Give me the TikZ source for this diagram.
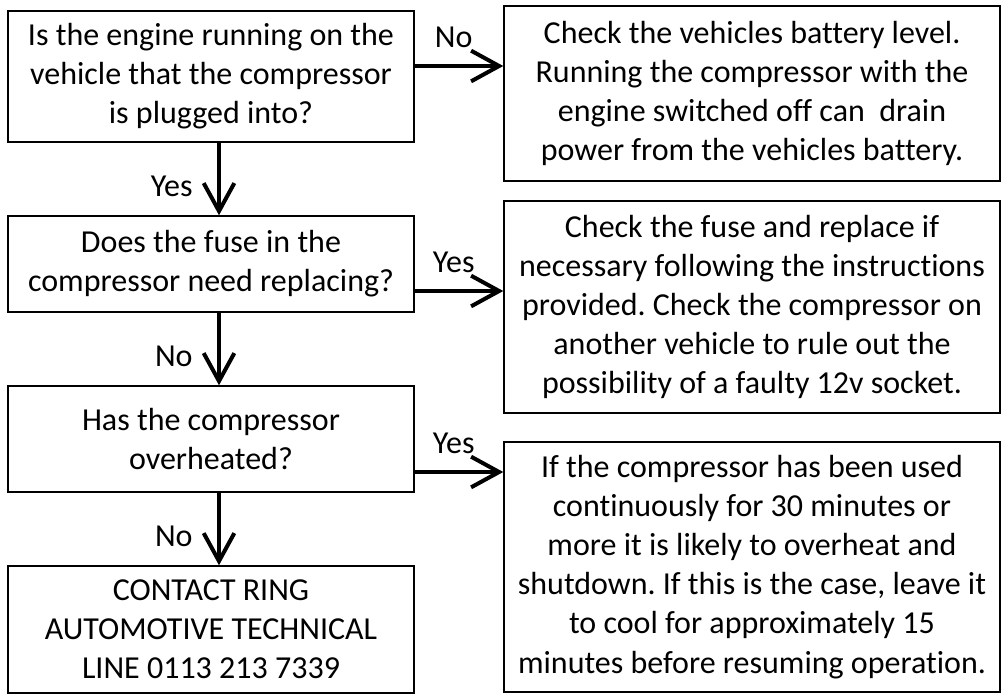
\documentclass[tikz,border=0pt]{standalone}
\usepackage{fontspec}
\setmainfont{Carlito}[Ligatures=NoCommon]
\usetikzlibrary{arrows.meta,positioning}

\tikzset{
    box/.style={
        draw, line width=1.1pt,
        inner sep=0pt,
        align=center
    },
    leftbox/.style={box, minimum width=304.5pt},
    rightbox/.style={box, minimum width=372pt},
    arr/.style={
        -{Straight Barb[length=21pt,width=23pt]},
        line width=3pt
    }
}

\begin{document}
\frenchspacing
\begin{tikzpicture}[
    x=0.75pt, y=-0.75pt,
    every node/.style={font=\fontsize{24}{29.3}\selectfont}
]
\useasboundingbox (0,0) rectangle (1003,694);

% questions
\node[leftbox, minimum height=98.25pt] (engine) at (211,76.5)
    {Is the engine running on the\\vehicle that the compressor\\is plugged into?};
\node[leftbox, minimum height=72pt] (fuse) at (211,264)
    {Does the fuse in the\\compressor need replacing?};
\node[leftbox, minimum height=79.5pt] (heat) at (211,439)
    {Has the compressor\\overheated?};
\node[leftbox, minimum height=95.25pt] (contact) at (211,629.5)
    {CONTACT RING\\AUTOMOTIVE TECHNICAL\\LINE 0113 213 7339};

% answers
\node[rightbox, minimum height=131.25pt] (battery) at (752,93.5)
    {Check the vehicles battery level.\\Running the compressor with the\\engine switched off can\ \ drain\\power from the vehicles battery.};
\node[rightbox, minimum height=159pt] (fusecheck) at (752,307)
    {Check the fuse and replace if\\necessary following the instructions\\provided. Check the compressor on\\another vehicle to rule out the\\possibility of a faulty 12v socket.};
\node[rightbox, minimum height=187.5pt] (cool) at (752,567)
    {If the compressor has been used\\continuously for 30 minutes or\\more it is likely to overheat and\\shutdown. If this is the case, leave it\\to cool for approximately 15\\minutes before resuming operation.};

% down arrows
\path (engine.south) ++(8,0) coordinate (d1);
\draw[arr] (d1) -- (d1 |- fuse.north) node[pos=0.6, left=15pt] {Yes};
\path (fuse.south) ++(8,0) coordinate (d2);
\draw[arr] (d2) -- (d2 |- heat.north) node[pos=0.6, left=15pt] {No};
\path (heat.south) ++(8,0) coordinate (d3);
\draw[arr] (d3) -- (d3 |- contact.north) node[pos=0.6, left=15pt] {No};

% side arrows
\path (engine.east) ++(0,-10.5) coordinate (s1);
\draw[arr] (s1) -- (s1 -| battery.west) node[midway, above=9pt, xshift=-4pt] {No};
\path (fuse.east) ++(0,27) coordinate (s2);
\draw[arr] (s2) -- (s2 -| fusecheck.west) node[midway, above=9pt, xshift=-4pt] {Yes};
\path (heat.east) ++(0,33) coordinate (s3);
\draw[arr] (s3) -- (s3 -| cool.west) node[midway, above=9pt, xshift=-4pt] {Yes};
\end{tikzpicture}
\end{document}
